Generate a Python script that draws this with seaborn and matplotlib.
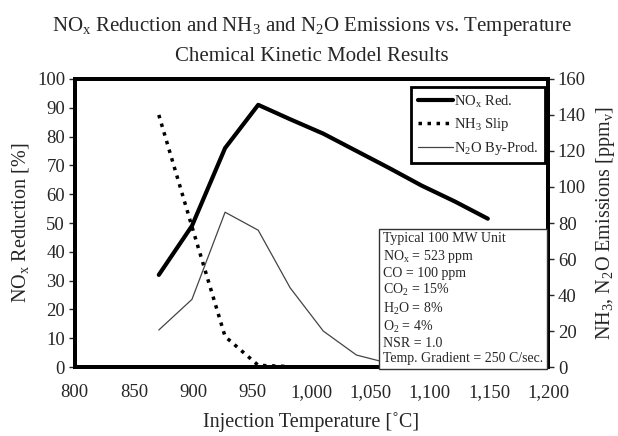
import matplotlib
matplotlib.use("Agg")
import matplotlib.pyplot as plt
import seaborn as sns
import pandas as pd

# data
temp_c = [871, 899, 927, 955, 982, 1010, 1038, 1066, 1093, 1121, 1149]
nox_red = [32, 49, 76, 91, 86, 81, 75, 69, 63, 57.5, 51.5]
n2o_ppm = [20.6, 37.6, 86, 76, 44, 20, 6.7, 2, 0.5, 0, 0]
nh3_temp = [871, 899, 927, 955, 982]
nh3_ppm = [140, 78, 17, 1, 0.3]

x_ticks = list(range(800, 1201, 50))
x_labels = [f"{t:,}" for t in x_ticks]

box_lines = [
    "Typical 100 MW Unit",
    "NO$_x$ = 523 ppm",
    "CO = 100 ppm",
    "CO$_2$ = 15%",
    "H$_2$O = 8%",
    "O$_2$ = 4%",
    "NSR = 1.0",
    "Temp. Gradient = 250 C/sec.",
]

sns.set_style("white")
plt.rcParams["font.family"] = ["Liberation Serif", "DejaVu Serif"]
plt.rcParams["mathtext.default"] = "regular"

df_main = pd.DataFrame({"T": temp_c, "nox": nox_red, "n2o": n2o_ppm})
df_nh3 = pd.DataFrame({"T": nh3_temp, "nh3": nh3_ppm})

fig = plt.figure(figsize=(6.18, 4.36), dpi=100)
ax = fig.add_axes([0.121, 0.158, 0.766, 0.661])
ax2 = ax.twinx()

sns.lineplot(data=df_main, x="T", y="nox", ax=ax, color="black", lw=3,
             label="NO$_x$ Red.", legend=False)
sns.lineplot(data=df_nh3, x="T", y="nh3", ax=ax2, color="black", lw=2.5,
             linestyle=(0, (1, 1.6)), label="NH$_3$ Slip", legend=False)
sns.lineplot(data=df_main, x="T", y="n2o", ax=ax2, color="#444444", lw=0.9,
             label="N$_2$O By-Prod.", legend=False)

ax.set_xlim(800, 1200)
ax.set_ylim(0, 100)
ax2.set_ylim(0, 160)
ax.set_xticks(x_ticks)
ax.set_xticklabels(x_labels)
ax.set_yticks(range(0, 101, 10))
ax2.set_yticks(range(0, 161, 20))

for a in (ax, ax2):
    for s in a.spines.values():
        s.set_linewidth(2.8)
        s.set_color("black")
    a.tick_params(direction="out", length=4, width=1, labelsize=13.5, pad=3)
ax.tick_params(axis="x", pad=8)

ax.set_xlabel("Injection Temperature [˚C]", fontsize=14.5, labelpad=8)
ax.set_ylabel("NO$_x$ Reduction [%]", fontsize=14.5, labelpad=4)
ax2.set_ylabel("NH$_3$, N$_2$O Emissions [ppm$_v$]", fontsize=14.5, labelpad=6)
ax.set_title("NO$_x$ Reduction and NH$_3$ and N$_2$O Emissions vs. Temperature\n"
             "Chemical Kinetic Model Results", fontsize=15, linespacing=1.6, pad=13)

h1, l1 = ax.get_legend_handles_labels()
h2, l2 = ax2.get_legend_handles_labels()
leg = ax2.legend(h1 + h2, l1 + l2, loc="upper right", bbox_to_anchor=(0.994, 0.972),
                 fontsize=10.5, frameon=True, fancybox=False, handlelength=2.4,
                 handletextpad=0.1, borderpad=0.45, labelspacing=0.45, borderaxespad=0)
leg.get_frame().set_edgecolor("black")
leg.get_frame().set_linewidth(2)
leg.get_frame().set_alpha(1)

ax2.text(0.651, 0.468, "\n".join(box_lines), transform=ax2.transAxes, fontsize=10,
         va="top", ha="left", linespacing=1.2,
         bbox=dict(boxstyle="square,pad=0.25", facecolor="white", edgecolor="#333333", lw=1))

fig.savefig("out.png", dpi=100)
